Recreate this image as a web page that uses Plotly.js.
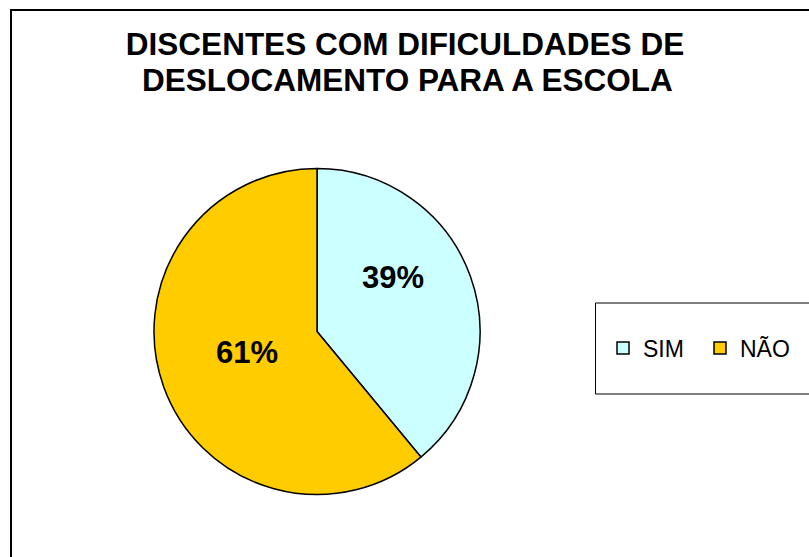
<!DOCTYPE html>
<html>
<head>
<meta charset="utf-8">
<script src="https://cdn.plot.ly/plotly-3.0.1.min.js"></script>
<style>html,body{margin:0;padding:0;background:#fff;}#chart{width:809px;height:557px;}</style>
</head>
<body>
<div id="chart"></div>
<script>
const categories = ["SIM", "NÃO"];
const values = [39, 61];
const colors = ["#CCFFFF", "#FFCC00"];
const titleLines = ["DISCENTES COM DIFICULDADES DE", "DESLOCAMENTO PARA A ESCOLA"];

const W = 809, H = 557;
const px = x => x / W;
const py = y => 1 - y / H;
const FONT = "Liberation Sans, Arial, sans-serif";

const total = values.reduce((a, b) => a + b, 0);
const pctText = values.map(v => Math.round(100 * v / total) + "%");

const trace = {
  type: "pie",
  labels: categories,
  values: values,
  sort: false,
  direction: "clockwise",
  rotation: 0,
  marker: { colors: colors, line: { color: "#000", width: 1.5 } },
  textinfo: "none",
  domain: { x: [px(154), px(480)], y: [py(494.5), py(168.5)] },
  hoverinfo: "label+percent"
};

// label placement (layout only), as in the reference
const labelPos = [[393, 277], [247, 352]];

const annotations = pctText.map((t, i) => ({
  text: t, xref: "paper", yref: "paper",
  x: px(labelPos[i][0]), y: py(labelPos[i][1]),
  xanchor: "center", yanchor: "middle", showarrow: false,
  font: { family: FONT, size: 31, color: "#000", weight: "bold" }
}));
annotations.push({
  text: titleLines[1], xref: "paper", yref: "paper",
  x: px(408), y: py(80), xanchor: "center", yanchor: "middle", showarrow: false,
  font: { family: FONT, size: 31.5, color: "#000", weight: "bold" }
});

const layout = {
  width: W, height: H,
  margin: { l: 0, r: 0, t: 0, b: 0 },
  paper_bgcolor: "#fff",
  title: {
    text: titleLines[0],
    font: { family: FONT, size: 31.5, color: "#000", weight: "bold" },
    x: px(405), xanchor: "center",
    y: py(44), yanchor: "middle"
  },
  showlegend: true,
  legend: {
    orientation: "h",
    x: px(603), xanchor: "left",
    y: py(348), yanchor: "middle",
    entrywidth: 52,
    bgcolor: "rgba(0,0,0,0)",
    font: { family: FONT, size: 23, color: "#000" },
    itemclick: false
  },
  annotations: annotations,
  shapes: [
    { type: "rect", xref: "paper", yref: "paper", x0: px(11), y0: py(10), x1: px(830), y1: py(580),
      line: { color: "#000", width: 2 }, fillcolor: "rgba(0,0,0,0)", layer: "below" },
    { type: "rect", xref: "paper", yref: "paper", x0: px(595.5), y0: py(303), x1: px(830), y1: py(394),
      line: { color: "#000", width: 1 }, fillcolor: "rgba(0,0,0,0)", layer: "below" }
  ]
};

Plotly.newPlot("chart", [trace], layout, { displayModeBar: false, staticPlot: true });
</script>
</body>
</html>
